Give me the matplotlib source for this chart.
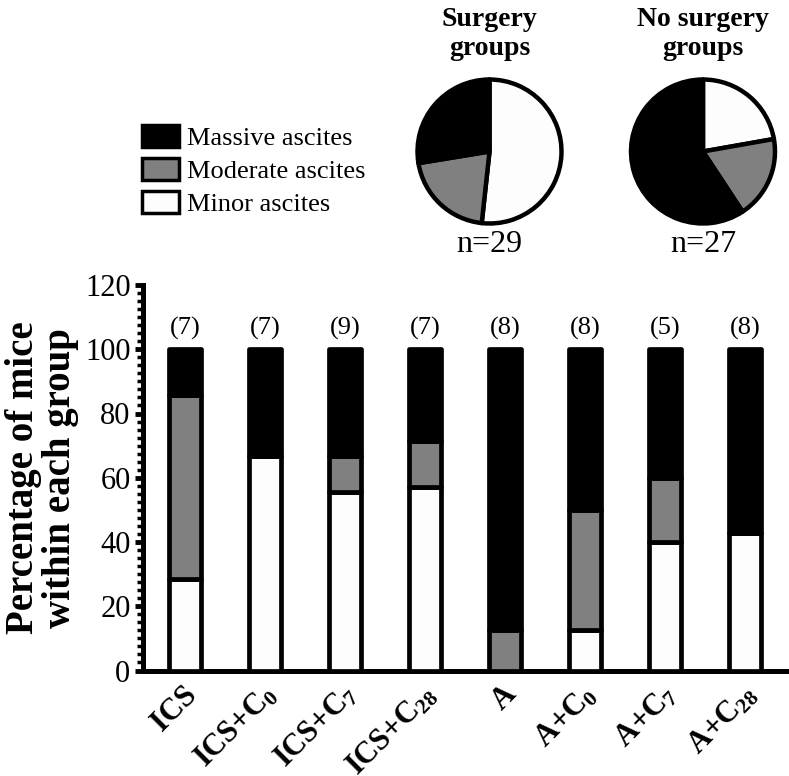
import matplotlib
matplotlib.use("Agg")
import matplotlib.pyplot as plt
import matplotlib.transforms as mtransforms
from matplotlib.patches import Patch
from matplotlib.ticker import MultipleLocator

plt.rcParams['font.family'] = ['Liberation Serif', 'DejaVu Serif']
plt.rcParams['mathtext.fontset'] = 'custom'
plt.rcParams['mathtext.rm'] = 'Liberation Serif'
plt.rcParams['mathtext.bf'] = 'Liberation Serif:bold'
plt.rcParams['mathtext.it'] = 'Liberation Serif:italic'

# ---------------- data ----------------
groups = ['ICS', r'ICS+C$_{\mathbf{0}}$', r'ICS+C$_{\mathbf{7}}$', r'ICS+C$_{\mathbf{28}}$',
          'A', r'A+C$_{\mathbf{0}}$', r'A+C$_{\mathbf{7}}$', r'A+C$_{\mathbf{28}}$']
n_mice = [7, 7, 9, 7, 8, 8, 5, 8]
minor_pct = [28.6, 66.7, 55.6, 57.1, 0.0, 12.5, 40.0, 42.9]
moderate_pct = [57.1, 0.0, 11.1, 14.3, 12.5, 37.5, 20.0, 0.0]
massive_pct = [14.3, 33.3, 33.3, 28.6, 87.5, 50.0, 40.0, 57.1]

pie_titles = ['Surgery\ngroups', 'No surgery\ngroups']
pie_n = [29, 27]
surgery_counts = [15, 6, 8]      # minor, moderate, massive
nosurgery_counts = [6, 5, 16]    # minor, moderate, massive

legend_labels = ['Massive ascites', 'Moderate ascites', 'Minor ascites']
yticks = [0, 20, 40, 60, 80, 100, 120]

# ---------------- style ----------------
c_massive = '#000000'
c_moderate = '#808080'
c_minor = '#fdfdfd'

W, H = 789, 776
fig = plt.figure(figsize=(W / 100, H / 100), dpi=100)

def px_axes(x0, y0, x1, y1):
    return fig.add_axes([x0 / W, 1 - y1 / H, (x1 - x0) / W, (y1 - y0) / H])

ax = px_axes(143, 285, 787, 670.5)
x = list(range(len(groups)))
bw = 0.41
lw = 3.4
bot2 = [a for a in minor_pct]
bot3 = [a + b for a, b in zip(minor_pct, moderate_pct)]
bars = []
bars += list(ax.bar(x, minor_pct, bw, color=c_minor, edgecolor='black', linewidth=lw, zorder=3))
bars += list(ax.bar(x, moderate_pct, bw, bottom=bot2, color=c_moderate, edgecolor='black', linewidth=lw, zorder=3))
bars += list(ax.bar(x, massive_pct, bw, bottom=bot3, color=c_massive, edgecolor='black', linewidth=lw, zorder=3))
for b in bars:
    b.set_joinstyle('round')

for xi, n in zip(x, n_mice):
    ax.text(xi, 106.5, f'({n})', ha='center', va='center', fontsize=19)

ax.set_xlim(-0.525, 7.525)
ax.set_ylim(0, 120)
ax.set_yticks(yticks)
ax.yaxis.set_minor_locator(MultipleLocator(2.5))
ax.tick_params(axis='y', which='major', direction='out', length=6, width=3.5, labelsize=22, pad=3)
ax.tick_params(axis='y', which='minor', direction='out', length=4, width=2.5)
ax.set_xticks(x)
ax.set_xticklabels(groups, rotation=45, ha='right', va='top', rotation_mode='anchor',
                   fontsize=22, fontweight='bold')
ax.tick_params(axis='x', length=0, pad=7)
offset = mtransforms.ScaledTranslation(-3 / 100, 0, fig.dpi_scale_trans)
for lab in ax.get_xticklabels():
    lab.set_transform(lab.get_transform() + offset)
for s in ['top', 'right']:
    ax.spines[s].set_visible(False)
for s in ['left', 'bottom']:
    ax.spines[s].set_linewidth(3.6)
ax.set_ylabel('Percentage of mice\nwithin each group', fontsize=28, fontweight='bold',
              linespacing=1.0, labelpad=4)

# legend
handles = [Patch(facecolor=c_massive, edgecolor='black', linewidth=2.5),
           Patch(facecolor=c_moderate, edgecolor='black', linewidth=2.5),
           Patch(facecolor=c_minor, edgecolor='black', linewidth=2.5)]
fig.legend(handles, legend_labels, loc='upper left', bbox_to_anchor=(142 / W, 1 - 125 / H),
           frameon=False, fontsize=19, handlelength=1.4, handleheight=0.9,
           handletextpad=0.3, labelspacing=0.3, borderpad=0, borderaxespad=0)

# pies
pie_centers = [(489.5, 151.5), (703, 151.5)]
r = 72
for (cx, cy), counts, title, n in zip(pie_centers, [surgery_counts, nosurgery_counts], pie_titles, pie_n):
    pax = px_axes(cx - r, cy - r, cx + r, cy + r)
    pax.pie(counts, colors=[c_minor, c_moderate, c_massive], startangle=90, counterclock=False,
            wedgeprops=dict(edgecolor='black', linewidth=3.2, joinstyle='round'))
    pax.set_xlim(-1, 1)
    pax.set_ylim(-1, 1)
    pax.set_aspect('auto')
    for p in pax.patches:
        p.set_clip_on(False)
    pax.axis('off')
    fig.text(cx / W, 1 - 34 / H, title, ha='center', va='center', fontsize=20,
             fontweight='bold', linespacing=1.2)
    fig.text(cx / W, 1 - 245 / H, f'n={n}', ha='center', va='center', fontsize=23)

fig.savefig('out.png', dpi=100)
